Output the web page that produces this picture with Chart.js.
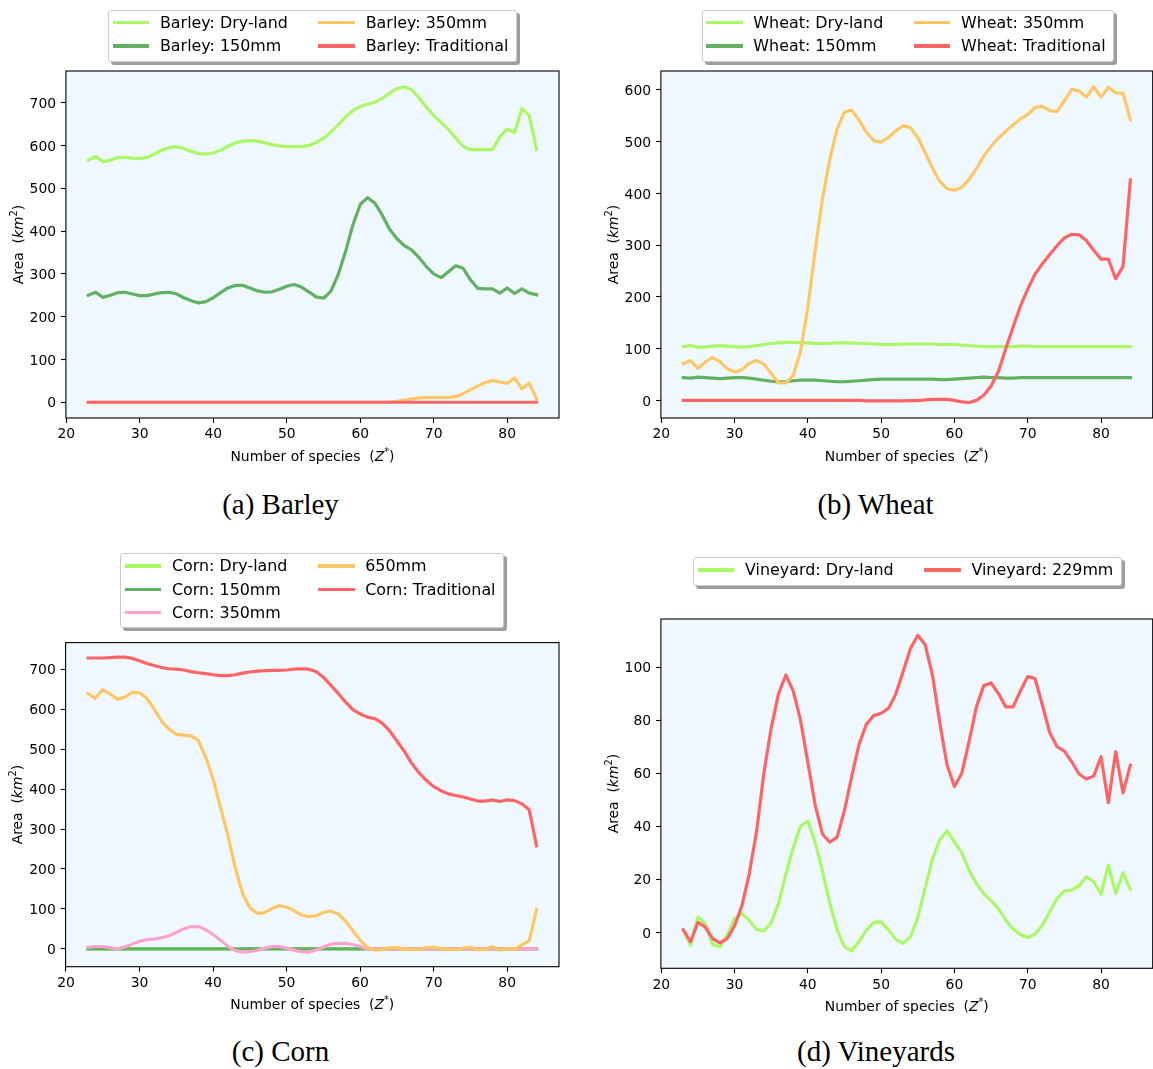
<!DOCTYPE html>
<html>
<head>
<meta charset="utf-8">
<script src="https://cdn.jsdelivr.net/npm/chart.js@4.4.1/dist/chart.umd.min.js"></script>
<style>
  html, body { margin: 0; padding: 0; background: #ffffff; }
  body { width: 1153px; height: 1069px; position: relative; overflow: hidden; font-family: "DejaVu Sans", sans-serif; }
  canvas { position: absolute; }
  .legend {
    position: absolute; z-index: 2; background: #ffffff;
    border: 1px solid #cccccc; border-radius: 3px;
    box-shadow: 3px 3px 0 rgba(0, 0, 0, 0.38);
    display: grid; grid-auto-flow: column; column-gap: 30.5px;
    font-family: "DejaVu Sans", sans-serif; font-size: 15.9px; line-height: 23.4px; color: #000;
    padding: 0 7.4px 2.9px 3.4px;
  }
  .legend .item { display: flex; align-items: center; white-space: nowrap; }
  .legend .swatch { display: inline-block; width: 36.6px; height: 3.2px; margin-right: 10.7px; }
  .caption {
    position: absolute; width: 400px; text-align: center; white-space: nowrap;
    font-family: "Liberation Serif", "Times New Roman", serif; font-size: 29px; line-height: 34px; color: #000;
  }
</style>
</head>
<body>
<script>
// ---- x values (number of species Z*) ----
const species = [23, 24, 25, 26, 27, 28, 29, 30, 31, 32, 33, 34, 35, 36, 37, 38, 39, 40, 41, 42,
  43, 44, 45, 46, 47, 48, 49, 50, 51, 52, 53, 54, 55, 56, 57, 58, 59, 60, 61, 62,
  63, 64, 65, 66, 67, 68, 69, 70, 71, 72, 73, 74, 75, 76, 77, 78, 79, 80, 81, 82, 83, 84];

// ---- tick labels ----
const xTicks = [20, 30, 40, 50, 60, 70, 80];
const barleyTicks = [0, 100, 200, 300, 400, 500, 600, 700];
const wheatTicks = [0, 100, 200, 300, 400, 500, 600];
const cornTicks = [0, 100, 200, 300, 400, 500, 600, 700];
const vineTicks = [0, 20, 40, 60, 80, 100];

// ---- (a) Barley, area in km2 ----
const barleyDryLand = [566, 574, 562, 565, 572, 572, 570, 569, 572, 580, 589, 595, 597, 593, 586, 581, 580, 582, 589, 598,
  606, 610, 611, 610, 606, 602, 599, 597, 597, 597, 600, 607, 617, 631, 648, 666, 681, 691, 696, 701,
  710, 722, 733, 737, 730, 711, 690, 670, 654, 638, 617, 598, 590, 590, 590, 590, 620, 638, 630, 686, 670, 591];
const barley150 = [250, 257, 245, 250, 256, 257, 253, 249, 249, 253, 256, 257, 253, 244, 237, 232, 235, 244, 256, 267,
  273, 273, 267, 260, 257, 258, 264, 271, 275, 269, 258, 246, 243, 259, 298, 352, 414, 462, 478, 465,
  437, 404, 382, 366, 356, 338, 317, 300, 291, 305, 319, 313, 286, 266, 265, 265, 255, 267, 254, 265, 255, 251];
const barley350 = [0, 0, 0, 0, 0, 0, 0, 0, 0, 0, 0, 0, 0, 0, 0, 0, 0, 0, 0, 0,
  0, 0, 0, 0, 0, 0, 0, 0, 0, 0, 0, 0, 0, 0, 0, 0, 0, 0, 0, 0,
  0, 0, 2, 5, 8, 10, 11, 11, 11, 11, 13, 20, 29, 38, 46, 51, 47, 44, 57, 31, 45, 8];
const barleyTraditional = [0, 0, 0, 0, 0, 0, 0, 0, 0, 0, 0, 0, 0, 0, 0, 0, 0, 0, 0, 0,
  0, 0, 0, 0, 0, 0, 0, 0, 0, 0, 0, 0, 0, 0, 0, 0, 0, 0, 0, 0,
  0, 0, 0, 0, 0, 0, 0, 0, 0, 0, 0, 0, 0, 0, 0, 0, 0, 0, 0, 0, 0, 0];

// ---- (b) Wheat ----
const wheatDryLand = [104, 106, 103, 103, 105, 106, 105, 104, 103, 104, 106, 108, 110, 111, 112, 112, 111, 111, 110, 110,
  110, 111, 111, 111, 110, 110, 109, 108, 108, 108, 109, 109, 109, 109, 109, 108, 108, 108, 107, 106,
  105, 104, 104, 104, 104, 104, 105, 105, 104, 104, 104, 104, 104, 104, 104, 104, 104, 104, 104, 104, 104, 104];
const wheat150 = [44, 43, 45, 44, 43, 42, 43, 44, 44, 43, 41, 39, 37, 36, 36, 38, 39, 39, 39, 38,
  37, 36, 36, 37, 38, 39, 40, 41, 41, 41, 41, 41, 41, 41, 41, 40, 40, 41, 42, 43,
  44, 45, 44, 44, 43, 43, 44, 44, 44, 44, 44, 44, 44, 44, 44, 44, 44, 44, 44, 44, 44, 44];
const wheat350 = [71, 77, 62, 74, 83, 75, 61, 55, 59, 72, 77, 70, 52, 34, 34, 48, 95, 180, 290, 390,
  466, 525, 557, 561, 541, 518, 502, 499, 508, 521, 531, 527, 508, 479, 449, 423, 409, 406, 412, 427,
  448, 472, 491, 507, 520, 532, 544, 552, 566, 568, 560, 558, 579, 601, 598, 586, 606, 586, 605, 594, 594, 542];
const wheatTraditional = [0, 0, 0, 0, 0, 0, 0, 0, 0, 0, 0, 0, 0, 0, 0, 0, 0, 0, 0, 0,
  0, 0, 0, 0, 0, -1, -1, -1, -1, -1, -1, -0.5, -0.5, 1, 2, 2, 2, 0, -3, -4,
  0, 10, 28, 56, 100, 142, 182, 215, 244, 264, 282, 299, 314, 321, 320, 309, 290, 273, 273, 235, 259, 426];

// ---- (c) Corn ----
const cornDryLand = [0, 0, 0, 0, 0, 0, 0, 0, 0, 0, 0, 0, 0, 0, 0, 0, 0, 0, 0, 0,
  0, 0, 0, 0, 0, 0, 0, 0, 0, 0, 0, 0, 0, 0, 0, 0, 0, 0, 0, 0,
  0, 0, 0, 0, 0, 0, 0, 0, 0, 0, 0, 0, 0, 0, 0, 0, 0, 0, 0, 0, 0, 0];
const corn150 = [0, 0, 0, 0, 0, 0, 0, 0, 0, 0, 0, 0, 0, 0, 0, 0, 0, 0, 0, 0,
  0, 0, 0, 0, 0, 0, 0, 0, 0, 0, 0, 0, 0, 0, 0, 0, 0, 0, 0, 0,
  0, 0, 0, 0, 0, 0, 0, 0, 0, 0, 0, 0, 0, 0, 0, 0, 0, 0, 0, 0, 0, 0];
const corn350 = [4, 6, 6, 3, 0, 5, 12, 19, 23, 25, 28, 33, 41, 50, 56, 56, 48, 36, 22, 7,
  -4, -8, -7, -4, 2, 6, 6, 2, -3, -7, -8, -3, 5, 12, 14, 14, 11, 6, 0, 0,
  0, 0, 0, 0, 0, 0, 0, 0, 0, 0, 0, 0, 0, 0, 0, 0, 0, 0, 0, 0, 0, 0];
const corn650 = [639, 627, 649, 638, 625, 630, 642, 641, 627, 600, 570, 550, 537, 535, 533, 522, 480, 426, 355, 285,
  205, 140, 103, 89, 91, 101, 108, 105, 96, 85, 81, 83, 91, 95, 88, 70, 46, 22, 4, -3,
  -2, 3, 3, 0, -2, -1, 3, 4, 1, -1, -2, 2, 4, -2, -2, 6, -3, 1, -1, 10, 21, 99];
const cornTraditional = [728, 728, 728, 729, 730, 730, 727, 721, 714, 709, 704, 701, 700, 698, 694, 691, 689, 686, 684, 684,
  686, 690, 693, 695, 696, 697, 697, 698, 700, 701, 700, 694, 680, 660, 640, 618, 599, 588, 580, 576,
  565, 546, 521, 495, 465, 441, 422, 406, 396, 388, 384, 380, 375, 370, 370, 373, 369, 373, 371, 363, 348, 258];

// ---- (d) Vineyards ----
const vineDryLand = [0.9, -4.8, 5.7, 3.4, -4.5, -5.4, -1, 5.3, 7.2, 4.6, 1.1, 0.6, 3.6, 11, 22, 32, 40, 42, 34, 23,
  11, 1, -5.4, -6.9, -3.3, 0.9, 3.8, 4, 1, -2.6, -4.1, -1.6, 5.6, 16.7, 27.5, 35, 38.3, 34, 30, 23.4,
  18.4, 14.6, 12, 9, 4.7, 1.3, -0.8, -1.9, -0.6, 2.8, 7.8, 12.8, 15.7, 16, 17.5, 21, 19.1, 14.4, 25.4, 14.7, 22.5, 16.2];
const vine229 = [1, -3.5, 3.8, 2, -2.3, -3.9, -2.3, 2.5, 10, 22, 38, 60, 77, 90, 97, 91, 80, 64, 48, 37,
  34, 36, 46, 59, 71, 78.5, 81.7, 82.6, 84.4, 89.8, 98.2, 107, 112, 108.5, 97, 79, 63, 55, 60, 72,
  85, 93, 94, 90, 85, 85, 91, 96.4, 95.7, 85.7, 75.3, 70, 68.3, 64.3, 59.7, 57.8, 58.9, 66.2, 48.9, 68.1, 52.6, 63];

// ---- line colours ----
const C_DRY = '#aaf866';
const C_150 = '#62b162';
const C_350 = '#ffc666';
const C_RED = '#ff6464';
const C_PINK = '#ffa2d2';

const TICK_FONT = { family: 'DejaVu Sans', size: 13.9 };

// light-blue plot background, black frame and the axis titles with math-style parts
function drawRich(ctx, parts, size) {
  const items = parts.map(p => {
    const fs = p.sup ? size * 0.7 : size;
    const font = (p.italic ? 'italic ' : '') + fs + 'px "DejaVu Sans"';
    ctx.font = font;
    return { p, font, w: ctx.measureText(p.t).width };
  });
  const total = items.reduce((s, it) => s + it.w, 0);
  let x = -total / 2;
  ctx.textAlign = 'left';
  ctx.textBaseline = 'alphabetic';
  ctx.fillStyle = '#000';
  for (const it of items) {
    ctx.font = it.font;
    ctx.fillText(it.p.t, x, it.p.sup ? -size * 0.42 : 0);
    x += it.w;
  }
}
const yTitle = [{ t: 'Area  (' }, { t: 'km', italic: true }, { t: '2', sup: true }, { t: ')' }];
const xTitle = [{ t: 'Number of species  (' }, { t: 'Z', italic: true }, { t: '*', sup: true }, { t: ')' }];

const panelDecor = {
  id: 'panelDecor',
  beforeDraw(chart) {
    const { ctx, chartArea: a } = chart;
    ctx.save();
    ctx.fillStyle = '#f0f8ff';
    ctx.fillRect(a.left, a.top, a.right - a.left, a.bottom - a.top);
    ctx.restore();
  },
  afterDatasetsDraw(chart) {
    const { ctx, chartArea: a } = chart;
    ctx.save();
    ctx.strokeStyle = '#000';
    ctx.lineWidth = 1.1;
    ctx.strokeRect(a.left, a.top, a.right - a.left, a.bottom - a.top);
    ctx.restore();
  },
  afterDraw(chart) {
    const { ctx, chartArea: a } = chart;
    ctx.save();
    ctx.translate(a.left - 43.4, (a.top + a.bottom) / 2);
    ctx.rotate(-Math.PI / 2);
    drawRich(ctx, yTitle, 13.9);
    ctx.restore();
    ctx.save();
    ctx.translate((a.left + a.right) / 2, a.bottom + 42.5);
    drawRich(ctx, xTitle, 13.9);
    ctx.restore();
  }
};

function buildPanel(p) {
  const cv = document.createElement('canvas');
  cv.width = p.canvas.w;
  cv.height = p.canvas.h;
  cv.style.left = p.canvas.x + 'px';
  cv.style.top = p.canvas.y + 'px';
  cv.style.width = p.canvas.w + 'px';
  cv.style.height = p.canvas.h + 'px';
  document.body.appendChild(cv);
  const a = p.area;
  new Chart(cv.getContext('2d'), {
    type: 'line',
    data: {
      datasets: p.series.map((s, i) => ({
        label: s.label,
        data: species.map((x, k) => ({ x: x, y: s.values[k] })),
        borderColor: s.color,
        backgroundColor: s.color,
        borderWidth: 3.2,
        pointRadius: 0,
        pointHoverRadius: 0,
        tension: 0,
        fill: false,
        borderJoinStyle: 'round',
        borderCapStyle: 'square',
        order: -i
      }))
    },
    options: {
      responsive: false,
      animation: false,
      devicePixelRatio: 1,
      events: [],
      layout: { padding: { left: 0, bottom: 0, top: a.top - p.canvas.y, right: p.canvas.x + p.canvas.w - a.right } },
      plugins: { legend: { display: false }, tooltip: { enabled: false } },
      scales: {
        x: {
          type: 'linear', min: 19.95, max: 87.05,
          afterBuildTicks: s => { s.ticks = xTicks.map(v => ({ value: v })); },
          afterFit: s => { s.height = p.canvas.y + p.canvas.h - a.bottom; },
          grid: { drawOnChartArea: false, drawTicks: true, tickLength: 4.9, tickWidth: 1.1, tickColor: '#000' },
          border: { display: false },
          ticks: { font: TICK_FONT, color: '#000', padding: 3.5, maxRotation: 0, autoSkip: false, callback: v => String(v) }
        },
        y: {
          type: 'linear', min: p.yRange[0], max: p.yRange[1],
          afterBuildTicks: s => { s.ticks = p.yTicks.map(v => ({ value: v })); },
          afterFit: s => { s.width = a.left - p.canvas.x; },
          grid: { drawOnChartArea: false, drawTicks: true, tickLength: 4.9, tickWidth: 1.1, tickColor: '#000' },
          border: { display: false },
          ticks: { font: TICK_FONT, color: '#000', padding: 4.9, labelOffset: 1.5, autoSkip: false, callback: v => String(v) }
        }
      }
    },
    plugins: [panelDecor]
  });

  // legend box
  const box = document.createElement('div');
  box.className = 'legend';
  box.style.left = p.legend.x + 'px';
  box.style.top = p.legend.y + 'px';
  box.style.gridTemplateRows = 'repeat(' + p.legend.rows + ', 23.4px)';
  p.series.forEach(s => {
    const item = document.createElement('div');
    item.className = 'item';
    const sw = document.createElement('span');
    sw.className = 'swatch';
    sw.style.background = s.color;
    const tx = document.createElement('span');
    tx.textContent = s.label;
    item.appendChild(sw);
    item.appendChild(tx);
    box.appendChild(item);
  });
  document.body.appendChild(box);

  // caption below the panel
  const cap = document.createElement('div');
  cap.className = 'caption';
  cap.textContent = p.caption.text;
  cap.style.left = (p.caption.cx - 200) + 'px';
  cap.style.top = (p.caption.cy - 19.4) + 'px';
  document.body.appendChild(cap);
}

const panels = [
  {
    canvas: { x: 0, y: 0, w: 577, h: 470 },
    area: { left: 65.9, top: 71, right: 559, bottom: 418 },
    yRange: [-36.85, 773.85], yTicks: barleyTicks,
    legend: { x: 108.3, y: 10, rows: 2 },
    caption: { text: '(a) Barley', cx: 280.5, cy: 506 },
    series: [
      { label: 'Barley: Dry-land', values: barleyDryLand, color: C_DRY },
      { label: 'Barley: 150mm', values: barley150, color: C_150 },
      { label: 'Barley: 350mm', values: barley350, color: C_350 },
      { label: 'Barley: Traditional', values: barleyTraditional, color: C_RED }
    ]
  },
  {
    canvas: { x: 595, y: 0, w: 558, h: 470 },
    area: { left: 660.9, top: 71, right: 1152.7, bottom: 418 },
    yRange: [-34, 636.5], yTicks: wheatTicks,
    legend: { x: 701.7, y: 10, rows: 2 },
    caption: { text: '(b) Wheat', cx: 875.5, cy: 506 },
    series: [
      { label: 'Wheat: Dry-land', values: wheatDryLand, color: C_DRY },
      { label: 'Wheat: 150mm', values: wheat150, color: C_150 },
      { label: 'Wheat: 350mm', values: wheat350, color: C_350 },
      { label: 'Wheat: Traditional', values: wheatTraditional, color: C_RED }
    ]
  },
  {
    canvas: { x: 0, y: 560, w: 577, h: 460 },
    area: { left: 65.6, top: 642.6, right: 559, bottom: 966.7 },
    yRange: [-44.5, 766.5], yTicks: cornTicks,
    legend: { x: 120.3, y: 553.3, rows: 3 },
    caption: { text: '(c) Corn', cx: 280.5, cy: 1053 },
    series: [
      { label: 'Corn: Dry-land', values: cornDryLand, color: C_DRY },
      { label: 'Corn: 150mm', values: corn150, color: C_150 },
      { label: 'Corn: 350mm', values: corn350, color: C_PINK },
      { label: '650mm', values: corn650, color: C_350 },
      { label: 'Corn: Traditional', values: cornTraditional, color: C_RED }
    ]
  },
  {
    canvas: { x: 595, y: 560, w: 558, h: 460 },
    area: { left: 660.9, top: 619, right: 1152.7, bottom: 968.3 },
    yRange: [-13.5, 118.1], yTicks: vineTicks,
    legend: { x: 693.3, y: 557.3, rows: 1 },
    caption: { text: '(d) Vineyards', cx: 876, cy: 1053 },
    series: [
      { label: 'Vineyard: Dry-land', values: vineDryLand, color: C_DRY },
      { label: 'Vineyard: 229mm', values: vine229, color: C_RED }
    ]
  }
];

panels.forEach(buildPanel);
</script>
</body>
</html>
